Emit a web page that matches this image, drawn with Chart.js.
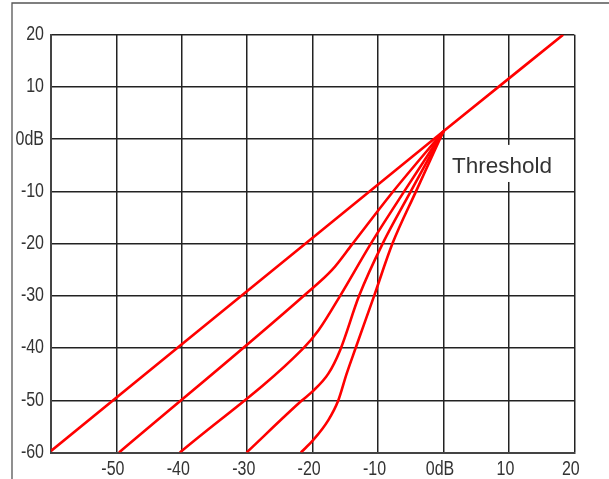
<!DOCTYPE html>
<html>
<head>
<meta charset="utf-8">
<script src="https://cdn.jsdelivr.net/npm/chart.js@4/dist/chart.umd.min.js"></script>
<style>
  html, body { margin: 0; padding: 0; background: #fff; }
  canvas { display: block; }
</style>
</head>
<body>
<canvas id="chart" width="609" height="479"></canvas>
<script>
// axis ticks
const xTicks = [-60, -50, -40, -30, -20, -10, 0, 10, 20];
const yTicks = [20, 10, 0, -10, -20, -30, -40, -50, -60];
const thresholdLabel = 'Threshold';

// curves (input dB -> output dB)
const line1X = [-60, 0, 18.3];
const line1Y = [-59.7, 1.5, 20];

const line2X = [-49.6, -21, -17, -14, -8, 0];
const line2Y = [-60, -29.6, -25, -20.2, -10.5, 1.5];

const line3X = [-40.3, -21.4, -19.1, -15.8, -11.1, -6, 0];
const line3Y = [-60, -40, -36.6, -30, -20, -10, 1.5];

const line4X = [-30.1, -21.7, -20.1, -17.6, -15.8, -12.9, -9.3, -5, 0];
const line4Y = [-60, -50.1, -48.4, -44.9, -40.4, -30, -20, -10, 1.5];

const line5X = [-21.8, -19.9, -17.6, -16.1, -14.8, -13.4, -10.6, -7.8, -4.2, 0];
const line5Y = [-60, -57.6, -53.8, -50.1, -44.9, -39.9, -30, -20, -10, 1.5];

function pts(xs, ys) {
  return xs.map((x, i) => ({ x: x, y: ys[i] }));
}

function lineSet(xs, ys) {
  return {
    data: pts(xs, ys),
    showLine: true,
    borderColor: '#ff0000',
    borderWidth: 2.6,
    pointRadius: 0,
    cubicInterpolationMode: 'monotone',
    fill: false
  };
}

const tickFont = { family: "'Liberation Sans', Arial, sans-serif", size: 19.5 };
const NARROW = 0.82; // the tick labels in the picture use a condensed face

// frame round the picture, narrow tick labels and the Threshold label box
const decor = {
  id: 'decor',
  beforeDraw(chart) {
    const ctx = chart.ctx;
    ctx.save();
    ctx.fillStyle = '#fff';
    ctx.fillRect(0, 0, chart.width, chart.height);
    ctx.strokeStyle = '#555';
    ctx.lineWidth = 1.3;
    ctx.beginPath();
    ctx.moveTo(12, chart.height);
    ctx.lineTo(12, 3);
    ctx.lineTo(chart.width, 3);
    ctx.stroke();
    ctx.restore();

    // squeeze the axis labels horizontally while the scales draw
    const orig = CanvasRenderingContext2D.prototype.fillText;
    ctx.fillText = function (text, x, y, maxWidth) {
      this.save();
      this.translate(x, y);
      this.scale(NARROW, 1);
      orig.call(this, text, 0, 0);
      this.restore();
    };
  },
  beforeDatasetsDraw(chart) {
    const ctx = chart.ctx;
    delete ctx.fillText;

    const xs = chart.scales.x, ys = chart.scales.y;
    const left = xs.getPixelForValue(0) + 1.5;
    const right = chart.chartArea.right - 1.5;
    const top = ys.getPixelForValue(-1.1);
    const bottom = ys.getPixelForValue(-8.2);
    ctx.save();
    ctx.fillStyle = '#fff';
    ctx.fillRect(left, top, right - left, bottom - top);
    ctx.fillStyle = '#333';
    ctx.font = "22.5px 'Liberation Sans', Arial, sans-serif";
    ctx.textBaseline = 'alphabetic';
    ctx.textAlign = 'left';
    ctx.fillText(thresholdLabel, left + 7, bottom - 8.5);
    ctx.restore();
  }
};

new Chart(document.getElementById('chart'), {
  type: 'scatter',
  data: {
    datasets: [
      lineSet(line1X, line1Y),
      lineSet(line2X, line2Y),
      lineSet(line3X, line3Y),
      lineSet(line4X, line4Y),
      lineSet(line5X, line5Y)
    ]
  },
  options: {
    responsive: false,
    animation: false,
    devicePixelRatio: 1,
    layout: { padding: { top: 34.7, right: 34.7, left: 0, bottom: 0 } },
    plugins: {
      legend: { display: false },
      tooltip: { enabled: false }
    },
    scales: {
      x: {
        type: 'linear',
        min: -60,
        max: 20,
        afterBuildTicks(scale) { scale.ticks = xTicks.map(v => ({ value: v })); },
        afterFit(scale) { scale.height = 26.5; },
        ticks: {
          font: tickFont,
          color: '#333',
          padding: 5,
          labelOffset: -3.5,
          maxRotation: 0,
          autoSkip: false,
          callback: v => v === -60 ? '' : (v === 0 ? '0dB' : String(v))
        },
        grid: { color: '#222', lineWidth: 1.5, drawTicks: false },
        border: { color: '#444', width: 2 }
      },
      y: {
        type: 'linear',
        min: -60,
        max: 20,
        afterBuildTicks(scale) { scale.ticks = yTicks.slice().reverse().map(v => ({ value: v })); },
        afterFit(scale) { scale.width = 51; },
        ticks: {
          font: tickFont,
          color: '#333',
          padding: 7,
          autoSkip: false,
          callback: v => v === 0 ? '0dB' : String(v)
        },
        grid: { color: '#222', lineWidth: 1.5, drawTicks: false },
        border: { color: '#444', width: 2 }
      }
    }
  },
  plugins: [decor]
});
</script>
</body>
</html>
